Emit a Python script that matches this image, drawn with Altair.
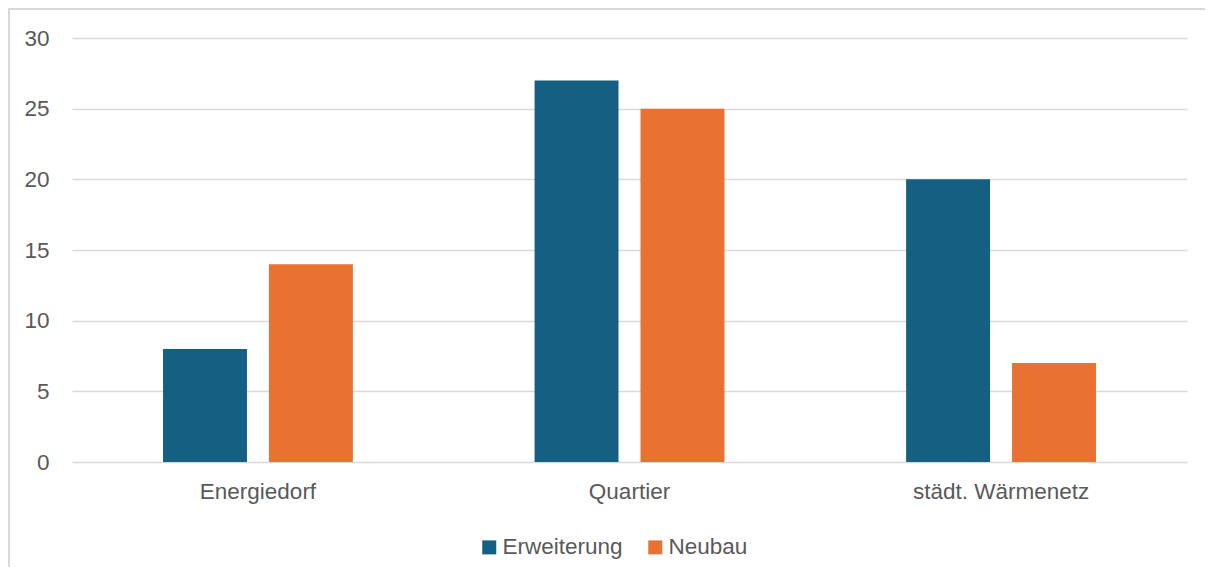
import altair as alt
import pandas as pd

categories = ["Energiedorf", "Quartier", "städt. Wärmenetz"]
series = ["Erweiterung", "Neubau"]
erweiterung = [8, 27, 20]
neubau = [14, 25, 7]
y_ticks = [0, 5, 10, 15, 20, 25, 30]
colors = ["#156082", "#E97132"]

rows = []
for c, v in zip(categories, erweiterung):
    rows.append({"Kategorie": c, "Serie": "Erweiterung", "Wert": v})
for c, v in zip(categories, neubau):
    rows.append({"Kategorie": c, "Serie": "Neubau", "Wert": v})
df = pd.DataFrame(rows)

FONT = "Liberation Sans"
TXT = "#595959"
FS = 22.5

bars = alt.Chart(df).mark_bar().encode(
    x=alt.X("Kategorie:N", sort=categories,
            scale=alt.Scale(paddingInner=0.489, paddingOuter=0.245),
            axis=alt.Axis(title=None, labelAngle=0, ticks=False, domain=False, grid=False,
                          labelFontSize=FS, labelColor=TXT, labelFont=FONT,
                          labelPadding=18)),
    xOffset=alt.XOffset("Serie:N", sort=series,
                        scale=alt.Scale(paddingInner=0.2075, paddingOuter=0)),
    y=alt.Y("Wert:Q", scale=alt.Scale(domain=[0, 30], nice=False),
            axis=alt.Axis(title=None, values=y_ticks, ticks=False, domain=False,
                          labelFontSize=FS, labelColor=TXT, labelFont=FONT,
                          labelPadding=23, gridColor="#d9d9d9", gridWidth=1.5)),
    color=alt.Color("Serie:N", sort=series,
                    scale=alt.Scale(domain=series, range=colors),
                    legend=alt.Legend(title=None, orient="none", legendX=406, legendY=498,
                                      direction="horizontal", symbolType="square",
                                      symbolSize=196, symbolStrokeWidth=0,
                                      labelFontSize=FS, labelColor=TXT, labelFont=FONT,
                                      labelOffset=2, columnPadding=21)),
)

dummy = pd.DataFrame({"d": [0]})
left_border = alt.Chart(dummy).mark_rule(color="#d9d9d9", strokeWidth=2).encode(
    x=alt.value(-63), y=alt.value(-30), y2=alt.value(537))
top_border = alt.Chart(dummy).mark_rule(color="#d9d9d9", strokeWidth=2).encode(
    x=alt.value(-64), x2=alt.value(1133), y=alt.value(-29))

chart = alt.layer(bars, left_border, top_border).properties(
    width=1115, height=424,
    padding={"left": 64, "top": 30, "right": 18, "bottom": 105},
    autosize=alt.AutoSizeParams(type="none"),
    background="white",
).configure_view(strokeWidth=0, stroke="transparent")

chart.save("out.html", embed_options={"renderer": "svg", "actions": False})
